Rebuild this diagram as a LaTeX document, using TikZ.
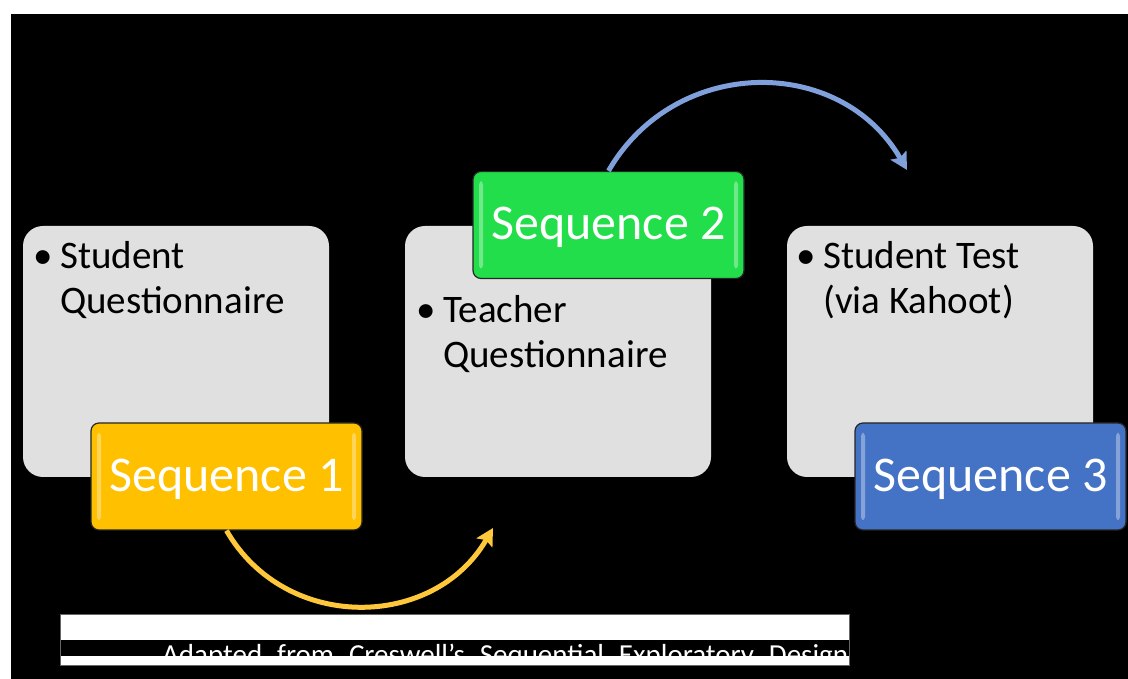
\documentclass[tikz,border=0pt]{standalone}
\usepackage{fontspec}
\setmainfont{Carlito}
\usepackage{tikz}
\usetikzlibrary{arrows.meta,positioning}

\definecolor{stagegray}{RGB}{224,224,224}
\definecolor{seqyellow}{RGB}{255,192,0}
\definecolor{seqgreen}{RGB}{34,222,74}
\definecolor{seqblue}{RGB}{68,114,196}
\definecolor{arcyellow}{RGB}{255,200,58}
\definecolor{arcblue}{RGB}{128,160,220}

\begin{document}
\begin{tikzpicture}[x=1pt, y=1pt, >={Stealth[length=17pt,width=18pt,inset=3pt]},
    stage/.style={fill=stagegray, rounded corners=20pt, minimum width=306pt, minimum height=251pt, inner sep=0pt},
    item/.style={align=left, inner sep=0pt, font=\fontsize{39}{45}\selectfont},
    seqbox/.style={draw=black!85, line width=1.2pt, rounded corners=8pt, minimum width=271pt,
        minimum height=107pt, inner sep=0pt, text=white, text height=36pt, text depth=6pt,
        font=\fontsize{50}{60}\selectfont,
        path picture={
            \fill[white, opacity=.35, rounded corners=3pt]
                ([shift={(6pt,-10pt)}]path picture bounding box.north west) rectangle
                ([shift={(10pt,10pt)}]path picture bounding box.south west);
            \fill[white, opacity=.35, rounded corners=3pt]
                ([shift={(-10pt,-10pt)}]path picture bounding box.north east) rectangle
                ([shift={(-6pt,10pt)}]path picture bounding box.south east);
        }},
    bendline/.style={line width=5pt, ->}]

    % page and background
    \useasboundingbox (0,0) rectangle (1128,679);
    \fill[white] (0,0) rectangle (1128,679);
    \fill[black] (11,0) rectangle (1128,665);

    % stage boxes
    \foreach \x [count=\i] in {176,558,940}
        \node [stage] (stage-\i) at (\x,327.5) {};

    % stage items (anchored on the last line)
    \foreach \x/\y/\t [count=\i] in {60/365/{Student\\Questionnaire}, 443/311/{Teacher\\Questionnaire}, 823/365/{Student Test\\(via Kahoot)}}
        \node [item, anchor=base west] (item-\i) at (\x,\y) {\llap{•\hspace{7pt}}\t};

    % sequence boxes
    \foreach \x/\y/\c [count=\i] in {226.5/202.5/seqyellow, 608.5/454/seqgreen, 990.5/202.5/seqblue}
        \node [seqbox, fill=\c] (seq-\i) at (\x,\y) {Sequence \i};

    % bends between sequences
    \coordinate (bend-1) at (493,151);
    \coordinate (bend-2) at (907,509);
    \draw [bendline, arcyellow] (seq-1.south) to[out=-60, in=-120, looseness=1.13] (bend-1);
    \draw [bendline, arcblue] (seq-2.north) to[out=60, in=120, looseness=1.14] (bend-2);

    % caption
    \fill[white] (60,14) rectangle (849,65);
    \begin{scope}
        \clip (60,23) rectangle (849,39);
        \fill[black] (60,23) rectangle (849,39);
        \node [anchor=base west, inner sep=0pt, text=white, font=\fontsize{29}{33}\selectfont] (caption) at (162,14)
            {\makebox[686pt][s]{Adapted from Creswell’s Sequential Exploratory Design}};
    \end{scope}
    \draw[black!60, line width=0.8pt] (60,14) rectangle (849,65);

\end{tikzpicture}
\end{document}
